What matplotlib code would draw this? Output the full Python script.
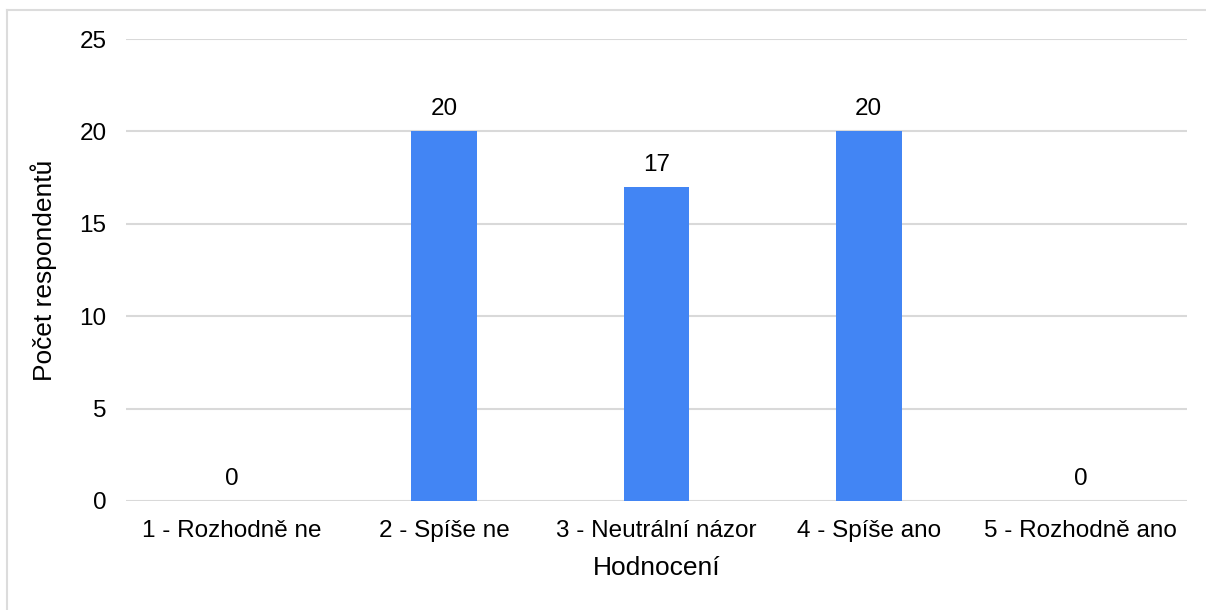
import matplotlib
matplotlib.use('Agg')
import matplotlib.pyplot as plt
from matplotlib.lines import Line2D

plt.rcParams['font.family'] = ['Liberation Sans', 'DejaVu Sans']

categories = ['1 - Rozhodně ne', '2 - Spíše ne', '3 - Neutrální názor',
              '4 - Spíše ano', '5 - Rozhodně ano']
counts = [0, 20, 17, 20, 0]
y_ticks = [0, 5, 10, 15, 20, 25]

BAR_COLOR = '#4285F4'
GRID_COLOR = '#d9d9d9'

fig = plt.figure(figsize=(12.06, 6.10), dpi=100)
ax = fig.add_axes([0.1045, 0.1787, 0.8797, 0.7573])

x = list(range(len(categories)))
bars = ax.bar(x, counts, width=0.31, color=BAR_COLOR, zorder=3)
ax.bar_label(bars, labels=[str(c) for c in counts], padding=8, fontsize=17.5)

ax.set_xlim(-0.5, len(categories) - 0.5)
ax.set_ylim(0, 25)
ax.set_yticks(y_ticks)
ax.set_xticks(x)
ax.set_xticklabels(categories)
ax.tick_params(axis='both', length=0, labelsize=17.5, pad=14)
ax.yaxis.grid(True, color=GRID_COLOR, linewidth=1.5, zorder=0)
for s in ax.spines.values():
    s.set_visible(False)

ax.set_xlabel('Hodnocení', fontsize=19, labelpad=10)
ax.set_ylabel('Počet respondentů', fontsize=19, labelpad=16)

# light outer frame (only left and top visible in the crop)
fig.add_artist(Line2D([7 / 1206, 7 / 1206], [0, 1 - 10 / 610],
                      transform=fig.transFigure, color='#dcdcdc', lw=1.5))
fig.add_artist(Line2D([7 / 1206, 1], [1 - 10 / 610, 1 - 10 / 610],
                      transform=fig.transFigure, color='#dcdcdc', lw=1.5))

fig.savefig('out.png', dpi=100)
